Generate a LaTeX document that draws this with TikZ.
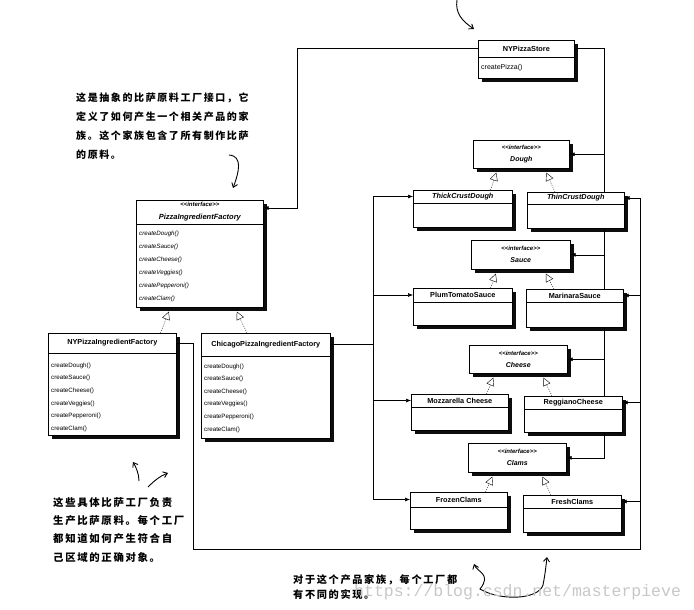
\documentclass[tikz,border=0pt]{standalone}
\usepackage{fontspec}
\setmainfont{Liberation Sans}
\newfontfamily\cjk[LetterSpace=16]{Noto Sans CJK SC}
\newfontfamily\wmfont{Liberation Mono}
\usetikzlibrary{arrows.meta,calc,shadows}

\tikzset{
  box/.style={draw, fill=white, line width=0.6pt, anchor=north west, inner sep=0pt,
    drop shadow={shadow xshift=3.3pt, shadow yshift=-3.3pt, fill=black, opacity=0.95}},
  ttl/.style={font=\fontsize{7.3}{9}\selectfont\bfseries, inner sep=0pt},
  ifc/.style={font=\fontsize{7}{12}\selectfont\bfseries\itshape, align=center, inner sep=0pt},
  mth/.style={font=\fontsize{6.2}{12.7}\selectfont, align=left, anchor=north west, inner sep=0pt},
  bus/.style={line width=0.6pt},
  link/.style={line width=0.6pt, -{Latex[length=5pt,width=4pt]}},
  real/.style={line width=0.4pt, dash pattern=on 1pt off 1.3pt, -{Triangle[open,fill=white,length=8pt,width=8pt]}},
  hand/.style={line width=0.9pt, -{Straight Barb[length=4pt,width=6pt]}},
  note/.style={align=left, anchor=north west, inner sep=0pt}
}

\begin{document}
\begin{tikzpicture}[x=1pt,y=-1pt]
	\useasboundingbox (0,0) rectangle (694,610);
	%\draw [help lines] (0,0) grid[step=50] (694,610);

	% store
	\node [box, minimum width=96, minimum height=38] (store) at (478,40) {};
	\draw [bus] ($(store.north west)+(0,17)$) -- ($(store.north east)+(0,17)$);
	\node [ttl] (store-t) at ($(store.north)+(0,8.5)$) {NYPizzaStore};
	\node [mth, font=\fontsize{7}{12}\selectfont] (store-m) at ($(store.north west)+(3,24.5)$) {createPizza()};

	% abstract factory
	\node [box, minimum width=127, minimum height=107] (pif) at (136,200) {};
	\draw [bus] ($(pif.north west)+(0,24)$) -- ($(pif.north east)+(0,24)$);
	\node [ifc, font=\fontsize{7.5}{13}\selectfont\bfseries\itshape] (pif-t) at ($(pif.north)+(0,12)$)
		{{\fontsize{6}{13}\selectfont <{}<interface>{}>}\\PizzaIngredientFactory};
	\node [mth, font=\fontsize{6.2}{13}\selectfont\itshape] (pif-m) at ($(pif.north west)+(3,30.5)$)
		{createDough()\\createSauce()\\createCheese()\\createVeggies()\\createPepperoni()\\createClam()};

	% concrete factories
	\node [box, minimum width=128, minimum height=102] (nypif) at (48,333) {};
	\draw [bus] ($(nypif.north west)+(0,20)$) -- ($(nypif.north east)+(0,20)$);
	\node [ttl] (nypif-t) at ($(nypif.north)+(0,10)$) {NYPizzaIngredientFactory};
	\node [mth] (nypif-m) at ($(nypif.north west)+(3,29.5)$)
		{createDough()\\createSauce()\\createCheese()\\createVeggies()\\createPepperoni()\\createClam()};

	\node [box, minimum width=129, minimum height=105] (chipif) at (201,333) {};
	\draw [bus] ($(chipif.north west)+(0,23)$) -- ($(chipif.north east)+(0,23)$);
	\node [ttl] (chipif-t) at ($(chipif.north)+(0,11.5)$) {ChicagoPizzaIngredientFactory};
	\node [mth, font=\fontsize{6.2}{12.6}\selectfont] (chipif-m) at ($(chipif.north west)+(3,30.5)$)
		{createDough()\\createSauce()\\createCheese()\\createVeggies()\\createPepperoni()\\createClam()};

	% product interfaces
	\node [box, minimum width=96, minimum height=28] (dough) at (473,140) {};
	\node [ifc] (dough-t) at (dough.center) {{\fontsize{6}{12}\selectfont <{}<interface>{}>}\\Dough};
	\node [box, minimum width=99, minimum height=29] (sauce) at (471,240) {};
	\node [ifc] (sauce-t) at (sauce.center) {{\fontsize{6}{12}\selectfont <{}<interface>{}>}\\Sauce};
	\node [box, minimum width=98, minimum height=28] (cheese) at (469,345) {};
	\node [ifc] (cheese-t) at (cheese.center) {{\fontsize{6}{12}\selectfont <{}<interface>{}>}\\Cheese};
	\node [box, minimum width=98, minimum height=29] (clams) at (468,443) {};
	\node [ifc] (clams-t) at (clams.center) {{\fontsize{6}{12}\selectfont <{}<interface>{}>}\\Clams};

	% products
	\node [box, minimum width=99, minimum height=37] (thick) at (413,190) {};
	\draw [bus] ($(thick.north west)+(0,13)$) -- ($(thick.north east)+(0,13)$);
	\node [ttl] (thick-t) at ($(thick.north)+(0,6.5)$) {\itshape ThickCrustDough};
	\node [box, minimum width=97, minimum height=36] (thin) at (527,192) {};
	\draw [bus] ($(thin.north west)+(0,12)$) -- ($(thin.north east)+(0,12)$);
	\node [ttl] (thin-t) at ($(thin.north)+(0,6)$) {\itshape ThinCrustDough};

	\node [box, minimum width=99, minimum height=37] (plum) at (413,288) {};
	\draw [bus] ($(plum.north west)+(0,14)$) -- ($(plum.north east)+(0,14)$);
	\node [ttl] (plum-t) at ($(plum.north)+(0,7)$) {PlumTomatoSauce};
	\node [box, minimum width=97, minimum height=38] (marinara) at (526,289) {};
	\draw [bus] ($(marinara.north west)+(0,13)$) -- ($(marinara.north east)+(0,13)$);
	\node [ttl] (marinara-t) at ($(marinara.north)+(0,6.5)$) {MarinaraSauce};

	\node [box, minimum width=97, minimum height=36] (mozz) at (411,394) {};
	\draw [bus] ($(mozz.north west)+(0,13)$) -- ($(mozz.north east)+(0,13)$);
	\node [ttl] (mozz-t) at ($(mozz.north)+(0,6.5)$) {Mozzarella Cheese};
	\node [box, minimum width=98, minimum height=36] (regg) at (524,396) {};
	\draw [bus] ($(regg.north west)+(0,13)$) -- ($(regg.north east)+(0,13)$);
	\node [ttl] (regg-t) at ($(regg.north)+(0,6.5)$) {ReggianoCheese};

	\node [box, minimum width=97, minimum height=37] (frozen) at (410,492) {};
	\draw [bus] ($(frozen.north west)+(0,15)$) -- ($(frozen.north east)+(0,15)$);
	\node [ttl] (frozen-t) at ($(frozen.north)+(0,7.5)$) {FrozenClams};
	\node [box, minimum width=98, minimum height=37] (fresh) at (523,495) {};
	\draw [bus] ($(fresh.north west)+(0,13)$) -- ($(fresh.north east)+(0,13)$);
	\node [ttl] (fresh-t) at ($(fresh.north)+(0,6.5)$) {FreshClams};

	% realization
	\draw [real] ([xshift=-16pt]nypif.north east) -- ([xshift=-31pt,yshift=-4pt]pif.south);
	\draw [real] ([xshift=46pt]chipif.north west) -- ([xshift=37pt,yshift=-4pt]pif.south);
	\foreach \i/\l/\r in {dough/thick/thin, sauce/plum/marinara, cheese/mozz/regg, clams/frozen/fresh} {
		\draw [real] ([xshift=-22pt]\l.north east) -- ([xshift=-25pt,yshift=-4pt]\i.south);
		\draw [real] ([xshift=28pt]\r.north west) -- ([xshift=25pt,yshift=-4pt]\i.south);
	}

	% store links
	\coordinate (stc1) at (297,208);
	\coordinate (stc2) at (604,0);
	\draw [link] (store.west |- store-t) -| (stc1) -- (stc1 -| pif.east);
	\draw [bus] (store.east |- store-t) -| (stc2 |- thin.north);
	\draw [link] (stc2 |- dough.east) -- (dough.east);
	\draw [bus] (thin.south -| stc2) -- (marinara.north -| stc2);
	\draw [link] (stc2 |- sauce.east) -- (sauce.east);
	\draw [bus] (marinara.south -| stc2) -- (regg.north -| stc2);
	\draw [link] (stc2 |- cheese.east) -- (cheese.east);
	\draw [link] (regg.south -| stc2) |- (clams.east);

	% NY factory links
	\coordinate (nyc1) at (193,549);
	\coordinate (nyc2) at (640,549);
	\draw [bus] (nypif.east |- nypif-t) -| (nyc1) -- (nyc2) -- (nyc2 |- thin-t);
	\foreach \c in {thin,marinara,regg,fresh}
		\draw [link] (nyc2 |- \c-t) -- (\c.east |- \c-t);

	% Chicago factory links
	\coordinate (chc) at (373,344);
	\draw [bus] (chipif.east |- chipif-t) -- (chc |- chipif-t);
	\draw [bus] (chc |- thick-t) -- (chc |- frozen-t);
	\foreach \c in {thick,plum,mozz,frozen}
		\draw [link] (chc |- \c-t) -- (\c.west |- \c-t);

	% notes
	\node [note, font=\cjk\bfseries\fontsize{10}{19}\selectfont] (note1) at (76,93)
		{这是抽象的比萨原料工厂接口，它\\定义了如何产生一个相关产品的家\\族。这个家族包含了所有制作比萨\\的原料。};
	\node [note, font=\cjk\bfseries\fontsize{10.4}{18.3}\selectfont] (note2) at (53,497)
		{这些具体比萨工厂负责\\生产比萨原料。每个工厂\\都知道如何产生符合自\\己区域的正确对象。};
	\node [note, font=\cjk\bfseries\fontsize{10.2}{15}\selectfont] (note3) at (293,574)
		{对于这个产品家族，每个工厂都\\有不同的实现。};
	\draw [hand] (457,0) .. controls (455,13) and (462,21) .. (474,29);
	\draw [hand] (229,155) .. controls (243,156) and (239,172) .. (233,188);
	\draw [hand] (139,481) .. controls (139,474) and (136,467) .. (133,462);
	\draw [hand] (148,487) .. controls (154,481) and (160,476) .. (168,473);
	\draw [hand, {Straight Barb[length=4pt,width=6pt]}-{Straight Barb[length=4pt,width=6pt]}]
		(474,564) .. controls (477,572) and (492,574) .. (480,589)
		.. controls (500,601) and (538,600) .. (543,585)
		.. controls (545,575) and (546,566) .. (547,557);

	% watermark
	\node [font=\wmfont\fontsize{16.5}{18}\selectfont, text=black!22, anchor=west, inner sep=0pt] (wm) at (354,592)
		{https://blog.csdn.net/masterpieve};
\end{tikzpicture}
\end{document}
